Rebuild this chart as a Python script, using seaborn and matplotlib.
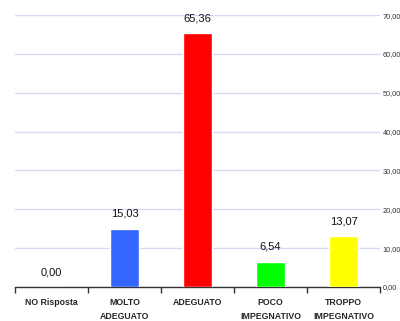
import pandas as pd
import matplotlib.pyplot as plt
import seaborn as sns

categorie = ['NO Risposta', 'MOLTO\nADEGUATO', 'ADEGUATO', 'POCO\nIMPEGNATIVO', 'TROPPO\nIMPEGNATIVO']
valori = [0.00, 15.03, 65.36, 6.54, 13.07]
colori = ['#ffffff', '#3366ff', '#ff0000', '#00ff00', '#ffff00']

df = pd.DataFrame({'Categoria': categorie, 'Valore': valori})

sns.set_style('white')
plt.rcParams['font.family'] = ['Liberation Sans Narrow', 'Liberation Sans', 'DejaVu Sans']

fig = plt.figure(figsize=(4, 3.21), dpi=100)
ax = fig.add_axes([0.0375, 0.106, 0.9125, 0.847])

sns.barplot(data=df, x='Categoria', y='Valore', hue='Categoria', palette=colori,
            width=0.4, saturation=1, legend=False, ax=ax, zorder=3)

ax.set_ylim(0, 70)
ax.set_xlim(-0.5, 4.5)
ax.set_yticks(range(0, 71, 10))
ax.set_yticklabels([f'{v:.2f}'.replace('.', ',') for v in range(0, 71, 10)], fontsize=5.3, color='#333333')
ax.yaxis.tick_right()
ax.tick_params(axis='y', length=0, pad=2)
ax.grid(axis='y', color='#d8d8f4', linewidth=1, zorder=0)
ax.set_xlabel('')
ax.set_ylabel('')
for s in ['top', 'left', 'right']:
    ax.spines[s].set_visible(False)
ax.spines['bottom'].set_color('#333333')
ax.spines['bottom'].set_linewidth(1)

# tacche sulle separazioni tra categorie
ax.set_xticks(range(5))
ax.set_xticklabels(categorie, fontsize=6.3, fontweight='bold', linespacing=1.7)
ax.set_xticks([i - 0.5 for i in range(6)], minor=True)
ax.tick_params(axis='x', which='minor', bottom=True, length=4, width=1, color='#333333', direction='out')
ax.tick_params(axis='x', which='major', bottom=False, length=0, pad=8)

for i, v in enumerate(valori):
    ax.text(i, v + 2.5, f'{v:.2f}'.replace('.', ','), ha='center', va='bottom', fontsize=8, color='#111111')

fig.savefig('out.png', dpi=100)
